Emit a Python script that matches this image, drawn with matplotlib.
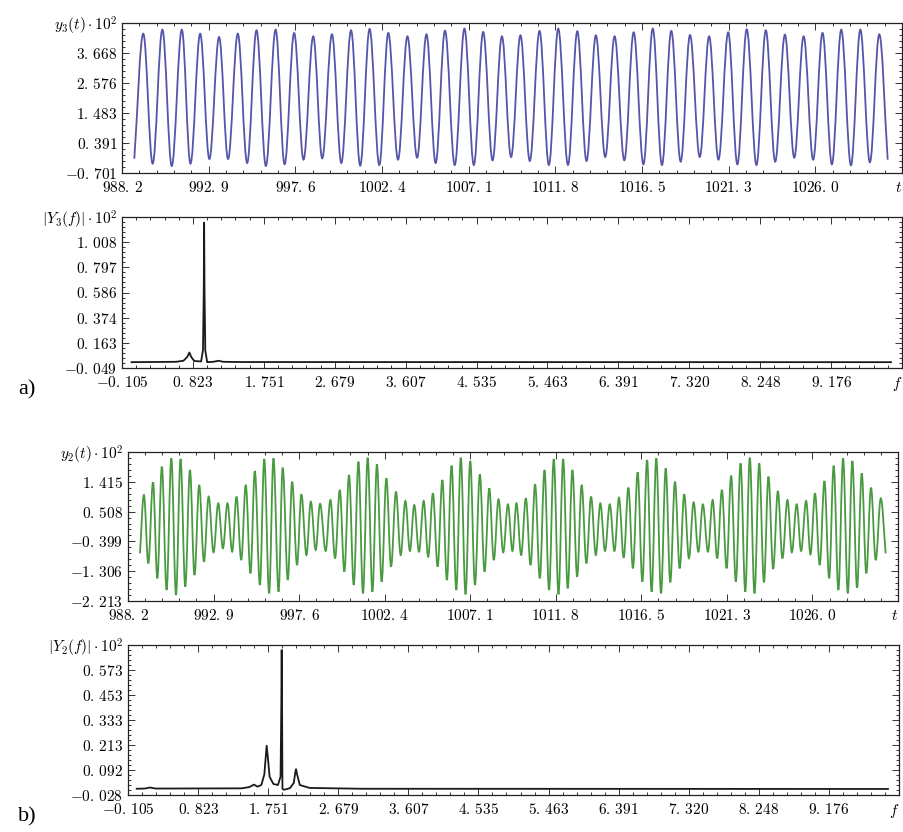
import numpy as np
import matplotlib
matplotlib.use('Agg')
import matplotlib.pyplot as plt
from matplotlib.path import Path
from matplotlib.patches import PathPatch
from matplotlib.ticker import AutoMinorLocator

plt.rcParams['mathtext.fontset'] = 'cm'
plt.rcParams['font.size'] = 10

# ---- a) y3(t): extrema ----
y3_start = (988.87, -0.18)
y3_end = (1029.92, -0.216)
y3_peak_t = [989.36, 990.40, 991.46, 992.46, 993.49, 994.51, 995.53, 996.57, 997.58, 998.62,
             999.64, 1000.68, 1001.69, 1002.71, 1003.75, 1004.79, 1005.80, 1006.86, 1007.88, 1008.90,
             1009.91, 1010.95, 1011.97, 1013.01, 1014.02, 1015.04, 1016.08, 1017.12, 1018.13, 1019.15,
             1020.19, 1021.23, 1022.24, 1023.28, 1024.32, 1025.34, 1026.37, 1027.39, 1028.43, 1029.46]
y3_peak_v = [4.372, 4.517, 4.517, 4.372, 4.251, 4.372, 4.493, 4.517, 4.396, 4.275,
             4.348, 4.493, 4.542, 4.396, 4.275, 4.348, 4.481, 4.554, 4.433, 4.275,
             4.311, 4.469, 4.554, 4.457, 4.311, 4.275, 4.420, 4.554, 4.469, 4.324,
             4.275, 4.420, 4.530, 4.493, 4.336, 4.275, 4.396, 4.517, 4.517, 4.348]
y3_trough_t = [989.87, 990.91, 991.93, 992.96, 993.98, 995.02, 996.04, 997.06, 998.09, 999.11,
               1000.15, 1001.18, 1002.22, 1003.24, 1004.28, 1005.29, 1006.33, 1007.37, 1008.39, 1009.40,
               1010.42, 1011.46, 1012.50, 1013.51, 1014.53, 1015.57, 1016.61, 1017.62, 1018.64, 1019.68,
               1020.70, 1021.73, 1022.77, 1023.79, 1024.83, 1025.86, 1026.88, 1027.92, 1028.95]
y3_trough_v = [-0.361, -0.446, -0.361, -0.191, -0.191, -0.337, -0.446, -0.385, -0.216, -0.167,
               -0.337, -0.434, -0.410, -0.216, -0.143, -0.337, -0.410, -0.410, -0.240, -0.118,
               -0.264, -0.410, -0.410, -0.264, -0.118, -0.240, -0.385, -0.410, -0.288, -0.118,
               -0.216, -0.385, -0.410, -0.288, -0.143, -0.216, -0.385, -0.422, -0.313]

# ---- a) |Y3(f)| ----
Y3_f = [0.02, 0.60, 0.70, 0.75, 0.777, 0.80, 0.84, 0.93, 0.955, 0.965, 0.970, 0.975, 0.985,
        1.01, 1.10, 1.157, 1.22, 1.50, 9.96]
Y3_v = [0.000, 0.003, 0.012, 0.045, 0.081, 0.045, 0.010, 0.006, 0.10, 0.60, 1.172, 0.60, 0.10,
        0.000, 0.004, 0.012, 0.003, 0.001, 0.000]

# ---- b) y2(t) ----
y2_start = (988.86, -0.762)
y2_end = (1030.02, -0.762)
y2_peak_t = [989.08, 989.58, 990.07, 990.59, 991.10, 991.62, 992.13, 992.65, 993.18, 993.69,
             994.19, 994.70, 995.20, 995.72, 996.23, 996.74, 997.26, 997.77, 998.29, 998.80,
             999.37, 999.89, 1000.40, 1000.92, 1001.43, 1001.94, 1002.46, 1002.99, 1003.51, 1004.00,
             1004.52, 1005.03, 1005.55, 1006.06, 1006.57, 1007.09, 1007.62, 1008.14, 1008.65, 1009.17,
             1009.64, 1010.16, 1010.67, 1011.19, 1011.70, 1012.22, 1012.73, 1013.24, 1013.76, 1014.27,
             1014.79, 1015.30, 1015.82, 1016.33, 1016.85, 1017.36, 1017.88, 1018.39, 1018.90, 1019.42,
             1019.93, 1020.47, 1020.98, 1021.49, 1022.01, 1022.52, 1023.04, 1023.55, 1024.07, 1024.60,
             1025.11, 1025.63, 1026.12, 1026.64, 1027.15, 1027.67, 1028.18, 1028.70, 1029.21, 1029.75]
y2_peak_v = [1.013, 1.399, 1.875, 2.129, 2.109, 1.774, 1.318, 0.962, 0.760, 0.760,
             0.962, 1.318, 1.744, 2.109, 2.129, 1.845, 1.419, 1.034, 0.810, 0.745,
             0.861, 1.165, 1.622, 2.028, 2.149, 1.947, 1.521, 1.115, 0.831, 0.709,
             0.831, 1.064, 1.470, 1.906, 2.149, 2.048, 1.642, 1.216, 0.881, 0.729,
             0.760, 0.912, 1.338, 1.774, 2.109, 2.109, 1.774, 1.318, 0.962, 0.760,
             0.729, 0.932, 1.236, 1.703, 2.078, 2.129, 1.825, 1.419, 1.034, 0.790,
             0.729, 0.861, 1.165, 1.602, 1.977, 2.149, 1.977, 1.571, 1.135, 0.861,
             0.729, 0.831, 1.064, 1.439, 1.906, 2.129, 2.048, 1.673, 1.236, 0.912]
y2_trough_t = [989.32, 989.82, 990.33, 990.85, 991.36, 991.87, 992.39, 992.92, 993.44, 993.95,
               994.45, 994.96, 995.48, 995.99, 996.51, 997.02, 997.53, 998.05, 998.56,
               999.11, 999.63, 1000.14, 1000.66, 1001.17, 1001.69, 1002.20, 1002.72, 1003.25, 1003.76,
               1004.26, 1004.77, 1005.29, 1005.80, 1006.32, 1006.83, 1007.35, 1007.88, 1008.39, 1008.91,
               1009.42, 1009.90, 1010.42, 1010.93, 1011.44, 1011.96, 1012.47, 1012.99, 1013.50, 1014.02,
               1014.53, 1015.05, 1015.56, 1016.07, 1016.59, 1017.10, 1017.62, 1018.13, 1018.65, 1019.16,
               1019.68, 1020.21, 1020.72, 1021.24, 1021.75, 1022.27, 1022.78, 1023.30, 1023.81, 1024.32,
               1024.84, 1025.35, 1025.87, 1026.38, 1026.90, 1027.41, 1027.93, 1028.44, 1028.95, 1029.47]
y2_trough_v = [-1.067, -1.523, -1.878, -2.030, -1.777, -1.422, -1.016, -0.732, -0.610, -0.712,
               -0.965, -1.371, -1.726, -1.980, -1.929, -1.574, -1.117, -0.813, -0.661,
               -0.691, -0.914, -1.320, -1.726, -1.980, -1.929, -1.625, -1.168, -0.813, -0.691,
               -0.712, -0.864, -1.168, -1.574, -1.878, -2.010, -1.726, -1.320, -0.965, -0.732,
               -0.691, -0.813, -1.117, -1.523, -1.878, -2.010, -1.827, -1.472, -1.067, -0.813,
               -0.691, -0.691, -0.894, -1.219, -1.625, -1.929, -1.980, -1.645, -1.219, -0.914,
               -0.712, -0.712, -0.914, -1.219, -1.625, -1.929, -1.980, -1.645, -1.239, -0.914,
               -0.732, -0.691, -0.793, -1.117, -1.523, -1.878, -1.980, -1.807, -1.371, -0.965]

# ---- b) |Y2(f)| ----
Y2_f = [0.01, 0.12, 0.186, 0.26, 1.40, 1.50, 1.563, 1.61, 1.66, 1.70, 1.72, 1.731, 1.745, 1.77,
        1.82, 1.88, 1.915, 1.925, 1.930, 1.935, 1.940, 1.96, 2.04, 2.09, 2.11, 2.12, 2.135, 2.17,
        2.30, 3.0, 9.958]
Y2_v = [0.002, 0.003, 0.008, 0.003, 0.004, 0.010, 0.022, 0.012, 0.020, 0.070, 0.160, 0.209, 0.160, 0.060,
        0.025, 0.020, 0.060, 0.400, 0.669, 0.400, 0.002, -0.003, 0.005, 0.030, 0.080, 0.096, 0.070, 0.020,
        0.006, 0.002, 0.001]

t_labels = ['988.2', '992.9', '997.6', '1002.4', '1007.1', '1011.8', '1016.5', '1021.3', '1026.0', 't']
f_labels = ['-0.105', '0.823', '1.751', '2.679', '3.607', '4.535', '5.463', '6.391', '7.320',
            '8.248', '9.176', 'f']
y3_labels = ['-0.701', '0.391', '1.483', '2.576', '3.668', r'y_3(t)\cdot 10^2']
Y3_labels = ['-0.049', '0.163', '0.374', '0.586', '0.797', '1.008', r'|Y_3(f)|\cdot 10^2']
y2_labels = ['-2.213', '-1.306', '-0.399', '0.508', '1.415', r'y_2(t)\cdot 10^2']
Y2_labels = ['-0.028', '0.092', '0.213', '0.333', '0.453', '0.573', r'|Y_2(f)|\cdot 10^2']


def tex(s):
    s = s.replace('.', r'.\,') if s[0] in '-0123456789' else s
    return '$' + s + '$'


def smooth_path(start, end, pt, pv, tt, tv, k=0.3642):
    # cubic Bezier through the extrema, flat tangent at each peak / trough
    ext = sorted(zip(pt + tt, pv + tv))
    ts = [start[0]] + [e[0] for e in ext] + [end[0]]
    vs = [start[1]] + [e[1] for e in ext] + [end[1]]
    verts = [(ts[0], vs[0])]
    codes = [Path.MOVETO]
    n = len(ts)
    for i in range(n - 1):
        t0, v0, t1, v1 = ts[i], vs[i], ts[i + 1], vs[i + 1]
        dt = t1 - t0
        c1 = (t0 + dt * k, v0 + (v1 - v0) * k) if i == 0 else (t0 + dt * k, v0)
        c2 = (t1 - dt * k, v1 - (v1 - v0) * k) if i == n - 2 else (t1 - dt * k, v1)
        verts += [c1, c2, (t1, v1)]
        codes += [Path.CURVE4] * 3
    return Path(verts, codes)


def frame(ax, xlim, ylim, xlabels, ylabels):
    ax.set_xlim(*xlim)
    ax.set_ylim(*ylim)
    xt = np.linspace(xlim[0], xlim[1], len(xlabels))
    yt = np.linspace(ylim[0], ylim[1], len(ylabels))
    ax.set_xticks(xt, [tex(s) for s in xlabels])
    ax.set_yticks(yt, [tex(s) for s in ylabels])
    ax.get_xticklabels()[-1].set_ha('right')
    ax.xaxis.set_minor_locator(AutoMinorLocator(5))
    ax.yaxis.set_minor_locator(AutoMinorLocator(5))
    ax.tick_params(which='both', direction='in', top=True, right=True, width=0.7, color='#333333')
    ax.tick_params(which='major', length=5, labelsize=11)
    ax.tick_params(axis='x', which='major', pad=5)
    ax.tick_params(axis='y', which='major', pad=3.5)
    ax.tick_params(which='minor', length=2.5)
    for sp in ax.spines.values():
        sp.set_linewidth(0.9)
        sp.set_color('#222222')


W, H = 904, 832
fig = plt.figure(figsize=(W / 100, H / 100), dpi=100)


def box(l, r, t, b):
    return fig.add_axes([l / W, 1 - b / H, (r - l) / W, (b - t) / H])


t_lim = (988.2, 1030.7)
f_lim = (-0.105, 10.104)

ax1 = box(122, 902, 23, 173)
ax1.add_patch(PathPatch(smooth_path(y3_start, y3_end, y3_peak_t, y3_peak_v, y3_trough_t, y3_trough_v),
                        fill=False, edgecolor='#5555aa', lw=1.3))
frame(ax1, t_lim, (-0.701, 4.760), t_labels, y3_labels)

ax2 = box(122, 902, 217, 368)
ax2.plot(Y3_f, Y3_v, color='#1a1a1a', lw=1.3)
frame(ax2, f_lim, (-0.049, 1.220), f_labels, Y3_labels)

ax3 = box(128, 898, 452, 601)
ax3.add_patch(PathPatch(smooth_path(y2_start, y2_end, y2_peak_t, y2_peak_v, y2_trough_t, y2_trough_v),
                        fill=False, edgecolor='#4a9a42', lw=1.3))
frame(ax3, t_lim, (-2.213, 2.322), t_labels, y2_labels)

ax4 = box(128, 899, 645, 795)
ax4.plot(Y2_f, Y2_v, color='#1a1a1a', lw=1.3)
frame(ax4, f_lim, (-0.028, 0.693), f_labels, Y2_labels)

fig.text(18 / W, 1 - 390 / H, 'a)', fontsize=16, family='Liberation Serif', ha='left', va='center')
fig.text(18 / W, 1 - 817 / H, 'b)', fontsize=16, family='Liberation Serif', ha='left', va='center')

fig.savefig('out.png', dpi=100, facecolor='white')
